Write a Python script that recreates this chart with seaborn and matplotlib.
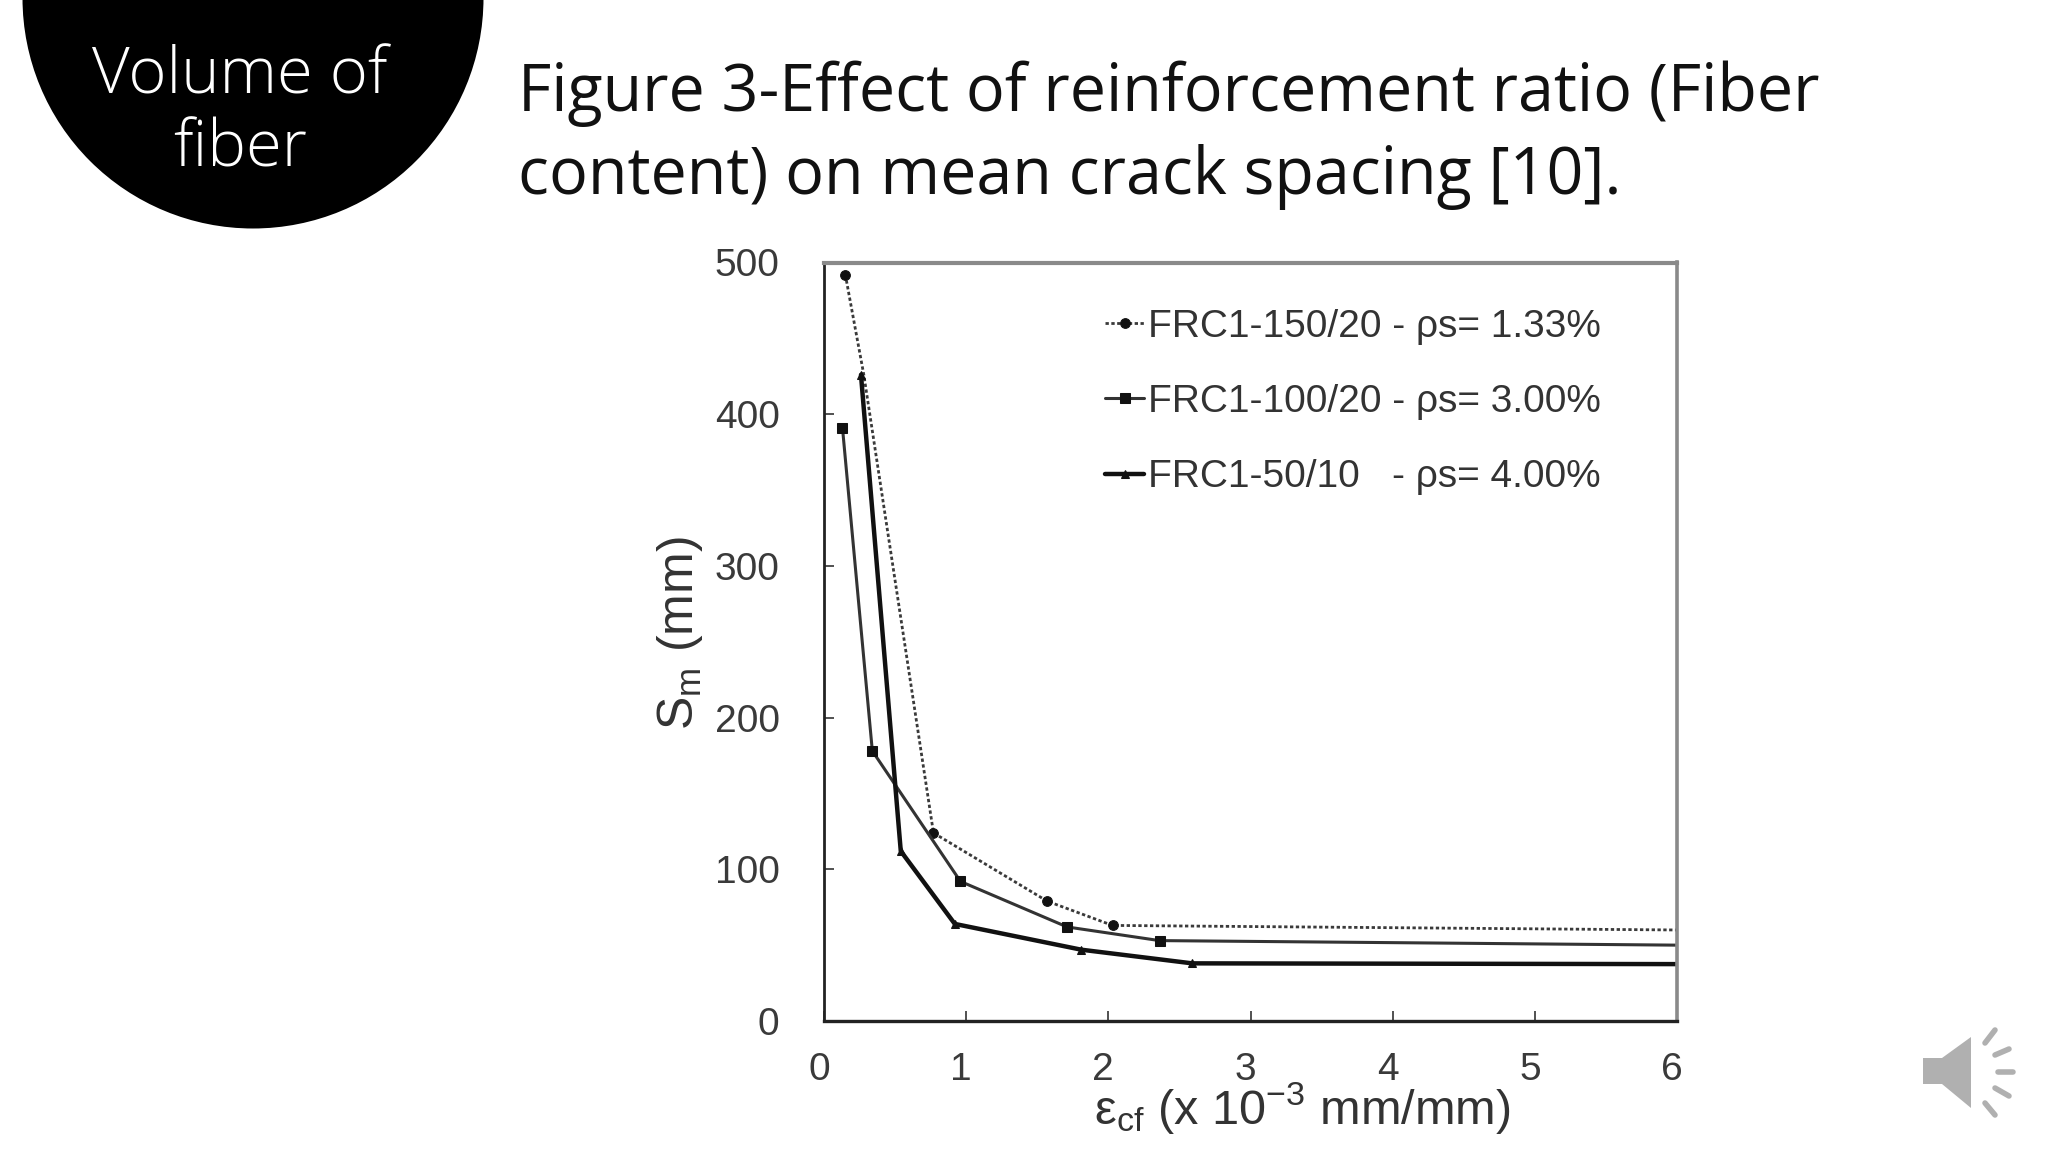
import matplotlib
matplotlib.use("Agg")
import matplotlib.pyplot as plt
import seaborn as sns
from matplotlib.patches import Circle, Polygon
from matplotlib.transforms import Affine2D, ScaledTranslation

sns.set_theme(style="white")
plt.rcParams['font.family'] = ['Liberation Sans', 'DejaVu Sans']
plt.rcParams['mathtext.default'] = 'regular'

W, H = 2048, 1152

# data
x_150 = [0.15, 0.28, 0.77, 1.57, 2.03, 6.0]
y_150 = [492, 426, 124, 79, 63, 60]
x_100 = [0.13, 0.34, 0.96, 1.71, 2.36, 6.0]
y_100 = [391, 178, 92, 62, 53, 50]
x_50 = [0.26, 0.54, 0.92, 1.81, 2.59, 6.0]
y_50 = [426, 112, 64, 47, 38, 37.5]
label_150 = "FRC1-150/20 - ρs= 1.33%"
label_100 = "FRC1-100/20 - ρs= 3.00%"
label_50 = "FRC1-50/10   - ρs= 4.00%"
x_ticks = [0, 1, 2, 3, 4, 5, 6]
y_ticks = [0, 100, 200, 300, 400, 500]
title_lines = "Figure 3-Effect of reinforcement ratio (Fiber\ncontent) on mean crack spacing [10]."
badge_lines = "Volume of\nfiber"

fig = plt.figure(figsize=(W / 100, H / 100), dpi=100, facecolor="white")
px = Affine2D().scale(1, -1).translate(0, H)  # top-left pixel space


def ax_rect(l, t, r, b):
    return [l / W, 1 - b / H, (r - l) / W, (b - t) / H]


ax = fig.add_axes(ax_rect(824, 262.5, 1677, 1021), facecolor="white")
sns.lineplot(x=x_150, y=y_150, ax=ax, sort=False, errorbar=None, color="#3a3a3a",
             lw=2.0, ls=(0, (1.2, 0.9)), marker="o", ms=7, mfc="#111111", mec="#111111",
             markevery=[0, 2, 3, 4], label=label_150)
sns.lineplot(x=x_100, y=y_100, ax=ax, sort=False, errorbar=None, color="#333333",
             lw=2.2, marker="s", ms=7.5, mfc="#111111", mec="#111111",
             markevery=[0, 1, 2, 3, 4], label=label_100)
sns.lineplot(x=x_50, y=y_50, ax=ax, sort=False, errorbar=None, color="#111111",
             lw=3.2, marker="^", ms=6, mfc="#111111", mec="#111111",
             markevery=[0, 1, 2, 3, 4], label=label_50)

ax.set_xlim(0, 6)
ax.set_ylim(0, 500)
ax.set_xticks(x_ticks)
ax.set_yticks(y_ticks)
ax.tick_params(axis="both", direction="in", length=7, width=1.2, color="#333333",
               labelsize=28, labelcolor="#3a3a3a", bottom=True, left=True)
ax.tick_params(axis="x", pad=22)
ax.tick_params(axis="y", pad=32)
shift = ScaledTranslation(-5 / 100, 0, fig.dpi_scale_trans)
for t in ax.get_xticklabels():
    t.set_transform(t.get_transform() + shift)
ax.set_xlabel("ε$_{cf}$ (x 10$^{-3}$ mm/mm)", fontsize=35, color="#333333")
ax.xaxis.set_label_coords(0.561, -0.078)
ax.set_ylabel("S$_{m}$ (mm)", fontsize=36, color="#333333")
ax.yaxis.set_label_coords(-0.139, 0.511)
for s, col, lw in [("left", "#222222", 2), ("bottom", "#222222", 2.4),
                   ("top", "#8a8a8a", 3), ("right", "#8a8a8a", 2.6)]:
    ax.spines[s].set_visible(True)
    ax.spines[s].set_color(col)
    ax.spines[s].set_linewidth(lw)

leg = ax.legend(loc="upper right", bbox_to_anchor=(0.911, 0.939), frameon=False,
                fontsize=28, labelcolor="#333333", handlelength=1.0, handletextpad=0.1,
                labelspacing=1.01, borderpad=0, borderaxespad=0)

# slide decoration
fig.add_artist(Circle((253, -2), 230.5, transform=px, facecolor="black", edgecolor="none"))
fig.text(240 / W, 1 - 113.5 / H, badge_lines, color="white", fontsize=47, ha="center",
         va="center", family=["Open Sans", "DejaVu Sans"], fontweight=300, linespacing=1.18)
fig.text(518 / W, 1 - 135 / H, title_lines, color="#111111", fontsize=46.5, ha="left",
         va="center", family=["Open Sans", "DejaVu Sans"], linespacing=1.33)

# speaker icon
grey = "#b0b0b0"
fig.add_artist(Polygon([(1923, 1058), (1942, 1058), (1971, 1037), (1971, 1108), (1942, 1084), (1923, 1084)],
                       closed=True, transform=px, facecolor=grey, edgecolor="none"))
for seg in [((1985, 1043), (1995, 1030)), ((1995, 1055), (2009, 1049)), ((1998, 1072), (2013, 1072)),
            ((1995, 1088), (2009, 1096)), ((1985, 1103), (1995, 1115))]:
    fig.add_artist(plt.Line2D([seg[0][0], seg[1][0]], [seg[0][1], seg[1][1]], transform=px,
                              color=grey, lw=4, solid_capstyle="round"))

fig.savefig("out.png", dpi=100, facecolor="white")
